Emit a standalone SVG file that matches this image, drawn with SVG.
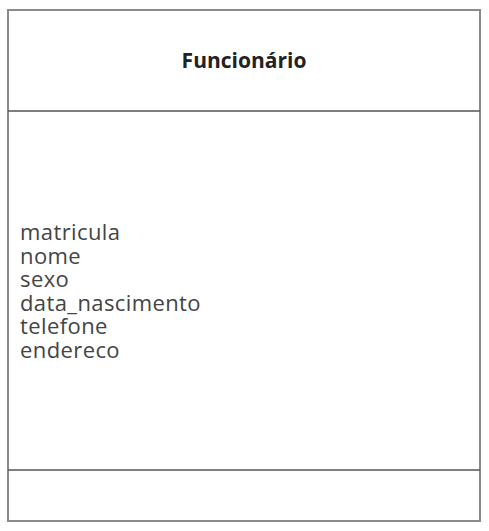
<svg xmlns="http://www.w3.org/2000/svg" width="489" height="531" viewBox="0 0 489 531">
<style>
.box{fill:#fff;stroke:#8a8a8a;stroke-width:2}
.sep{stroke:#555;stroke-width:1.5}
.title{font-family:"Open Sans","Noto Sans",sans-serif;font-weight:bold;font-size:21px;fill:#222;text-anchor:middle}
.attr{font-family:"Open Sans","Noto Sans",sans-serif;font-size:22px;letter-spacing:0.4px;fill:#444}
</style>
<rect width="489" height="531" fill="#fff"/>
<g id="funcionario">
<rect class="box" x="8" y="10" width="472" height="511"/>
<line class="sep" x1="8" y1="111" x2="480" y2="111"/>
<line class="sep" x1="8" y1="470" x2="480" y2="470"/>
<text class="title" x="244" y="68">Funcionário</text>
<text class="attr" x="20" y="240"><tspan x="20" y="240">matricula</tspan><tspan x="20" y="263.5">nome</tspan><tspan x="20" y="287">sexo</tspan><tspan x="20" y="310.5">data_nascimento</tspan><tspan x="20" y="334">telefone</tspan><tspan x="20" y="357.5">endereco</tspan></text>
</g>
<g id="connectors"/>
</svg>
